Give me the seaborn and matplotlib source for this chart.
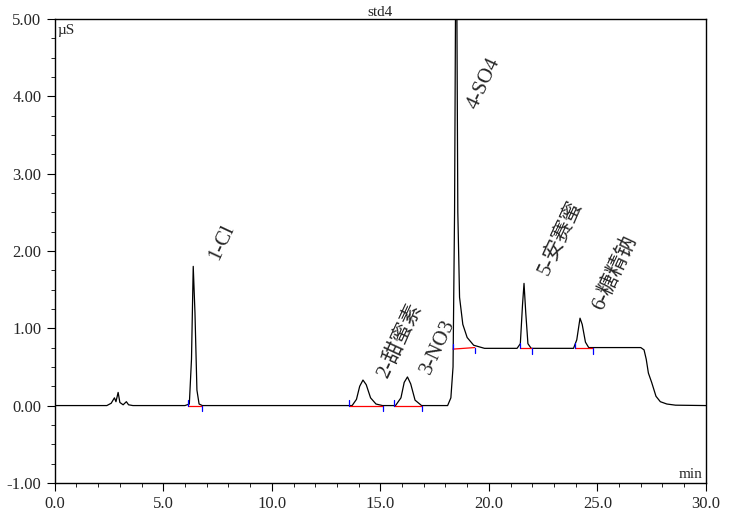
import matplotlib
matplotlib.use('Agg')
import matplotlib.pyplot as plt
import seaborn as sns
from matplotlib.ticker import MultipleLocator

# chromatogram trace (min, uS)
time = [0, 2.0, 2.4, 2.6, 2.75, 2.82, 2.92, 3.0, 3.15, 3.3, 3.4, 3.6, 6.0, 6.2, 6.3, 6.38, 6.46, 6.55,
        6.65, 6.8, 13.7, 13.9, 14.05, 14.2, 14.35, 14.55, 14.8, 15.1, 15.7, 15.95, 16.1, 16.25, 16.4,
        16.6, 16.9, 18.1, 18.25, 18.35, 18.42, 18.47, 18.52, 18.57, 18.65, 18.8, 19.0, 19.3, 19.8,
        21.3, 21.45, 21.55, 21.62, 21.7, 21.8, 21.95, 23.9, 24.05, 24.2, 24.3, 24.45, 24.6, 27.0,
        27.15, 27.25, 27.35, 27.5, 27.7, 27.9, 28.2, 28.6, 30.0]
signal = [0, 0, 0, 0.03, 0.1, 0.05, 0.17, 0.04, 0.01, 0.05, 0.01, 0, 0, 0.02, 0.6, 1.8, 1.2, 0.2,
          0.02, 0, 0, 0.08, 0.25, 0.33, 0.27, 0.1, 0.02, 0, 0, 0.1, 0.3, 0.37, 0.28,
          0.07, 0, 0, 0.1, 0.5, 2.5, 5.5, 5.5, 2.5, 1.4, 1.05, 0.88, 0.78, 0.74,
          0.74, 0.8, 1.3, 1.58, 1.2, 0.8, 0.74, 0.74, 0.85, 1.13, 1.05, 0.82, 0.75, 0.75,
          0.72, 0.6, 0.42, 0.3, 0.12, 0.05, 0.02, 0.005, 0]

# integration baselines
peak_start = [6.15, 13.55, 15.65, 18.35, 21.45, 23.95]
peak_end = [6.8, 15.1, 16.9, 19.35, 22.0, 24.8]
base_start = [0.0, 0.0, 0.0, 0.73, 0.74, 0.74]
base_end = [0.0, 0.0, 0.0, 0.75, 0.74, 0.74]

peak_labels = ['1-Cl', '2-甜蜜素', '3-NO3', '4-SO4', '5-安赛蜜', '6-糖精钠']
label_x = [6.95, 14.7, 16.7, 18.85, 22.1, 24.6]
label_y = [1.95, 0.42, 0.47, 3.9, 1.75, 1.3]

sns.set_style('white')
fig = plt.figure(figsize=(7.3, 5.11), dpi=100)
ax = fig.add_axes([0.075, 0.055, 0.892, 0.908])

sns.lineplot(x=time, y=signal, ax=ax, color='black', linewidth=0.9, sort=False)

for s, e, bs, be in zip(peak_start, peak_end, base_start, base_end):
    ax.plot([s, e], [bs, be], color='red', linewidth=0.9)
    ax.plot([s, s], [bs, bs + 0.07], color='blue', linewidth=0.9)
    ax.plot([e, e], [be, be - 0.07], color='blue', linewidth=0.9)

for lab, x, y in zip(peak_labels, label_x, label_y):
    ax.text(x, y, lab, rotation=65, ha='left', va='top', fontsize=15,
            family=['Liberation Serif', 'Noto Sans CJK SC'], rotation_mode='anchor')

ax.set_xlim(0, 30)
ax.set_ylim(-1, 5)
ax.xaxis.set_major_locator(MultipleLocator(5))
ax.xaxis.set_minor_locator(MultipleLocator(1))
ax.yaxis.set_major_locator(MultipleLocator(1))
ax.yaxis.set_minor_locator(MultipleLocator(0.25))
ax.set_xticklabels([f'{v:.1f}' for v in ax.get_xticks()])
ax.set_yticklabels([f'{v:.2f}' for v in ax.get_yticks()])
ax.tick_params(which='both', direction='out', left=True, bottom=True, color='black')
ax.tick_params(which='major', length=6, labelsize=12)
ax.tick_params(which='minor', length=3)
for lbl in ax.get_xticklabels() + ax.get_yticklabels():
    lbl.set_family('Liberation Serif')
for sp in ax.spines.values():
    sp.set_color('black')
    sp.set_linewidth(1)

ax.text(0.005, 0.99, 'µS', transform=ax.transAxes, ha='left', va='top', fontsize=11, family='Liberation Serif')
ax.text(0.995, 0.005, 'min', transform=ax.transAxes, ha='right', va='bottom', fontsize=11, family='Liberation Serif')
ax.set_title('std4', fontsize=11, family='Liberation Serif', pad=2)

fig.savefig('out.png', dpi=100)
